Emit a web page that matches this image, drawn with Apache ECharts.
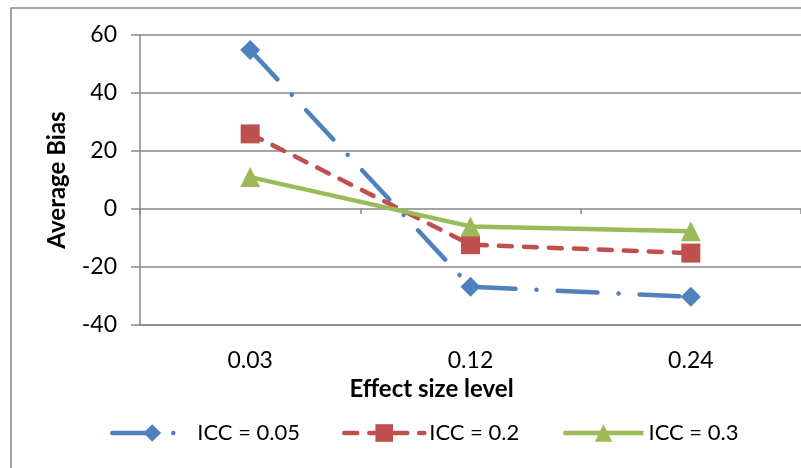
<!DOCTYPE html>
<html>
<head>
<meta charset="utf-8">
<script src="https://cdn.jsdelivr.net/npm/echarts@6/dist/echarts.min.js"></script>
<style>
  html, body { margin: 0; padding: 0; background: #fff; }
  #chart { width: 801px; height: 468px; }
</style>
</head>
<body>
<div id="chart"></div>
<script>
// effect size levels on the x axis
const categories = ['0.03', '0.12', '0.24'];
// average bias per ICC level
const icc005 = [54.8, -26.8, -30.3];
const icc02 = [25.9, -12.3, -15.2];
const icc03 = [11.0, -6.0, -7.7];
const seriesNames = ['ICC = 0.05', 'ICC = 0.2', 'ICC = 0.3'];

const FONT = 'Lato';
const GRAY = '#868686';

let chart = echarts.init(document.getElementById('chart'));
chart.setOption({
    animation: false,
    textStyle: { fontFamily: FONT, color: '#000' },
    graphic: [{
        type: 'rect',
        shape: { x: 11, y: 8, width: 830, height: 490 },
        style: { fill: 'none', stroke: GRAY, lineWidth: 1.5 },
        silent: true
    }],
    grid: { left: 140, right: -4, top: 35, bottom: 143 },
    legend: {
        data: seriesNames,
        left: 105,
        top: 417,
        itemWidth: 80,
        itemHeight: 22,
        itemGap: 42,
        lineStyle: { width: 4.5 },
        textStyle: { fontFamily: FONT, fontSize: 22, color: '#000' }
    },
    xAxis: [{
        type: 'category',
        data: categories,
        name: 'Effect size level',
        nameLocation: 'middle',
        nameGap: 52,
        nameTextStyle: { fontFamily: FONT, fontSize: 24, fontWeight: 'bold', padding: [0, 78, 0, 0] },
        axisLine: { onZero: false, lineStyle: { color: GRAY, width: 1.5 } },
        axisTick: { show: false },
        axisLabel: { margin: 24, fontSize: 23, color: '#000' }
    }, {
        // tick marks along the zero line
        type: 'category',
        data: categories,
        position: 'top',
        axisLine: { show: false, onZero: true },
        axisTick: { show: true, inside: true, length: 5, lineStyle: { color: GRAY, width: 1.5 } },
        axisLabel: { show: false }
    }],
    yAxis: {
        type: 'value',
        min: -40,
        max: 60,
        interval: 20,
        name: 'Average Bias',
        nameLocation: 'middle',
        nameGap: 71,
        nameTextStyle: { fontFamily: FONT, fontSize: 24, fontWeight: 'bold' },
        axisLine: { show: true, lineStyle: { color: GRAY, width: 1.5 } },
        axisTick: { show: true, length: 9, lineStyle: { color: GRAY, width: 1.5 } },
        axisLabel: { margin: 23, fontSize: 23, color: '#000' },
        splitLine: { lineStyle: { color: GRAY, width: 1.5 } }
    },
    series: [{
        name: seriesNames[0],
        type: 'line',
        data: icc005,
        symbol: 'diamond',
        symbolSize: 20,
        color: '#4F81BD',
        lineStyle: { width: 4.5, type: [40, 21, 0.1, 21], cap: 'round' }
    }, {
        name: seriesNames[1],
        type: 'line',
        data: icc02,
        symbol: 'rect',
        symbolSize: 19,
        color: '#C0504D',
        lineStyle: { width: 4.5, type: [13, 12], cap: 'round' }
    }, {
        name: seriesNames[2],
        type: 'line',
        data: icc03,
        symbol: 'triangle',
        symbolSize: 20,
        color: '#9BBB59',
        lineStyle: { width: 4.5, type: 'solid' }
    }]
});
</script>
</body>
</html>
